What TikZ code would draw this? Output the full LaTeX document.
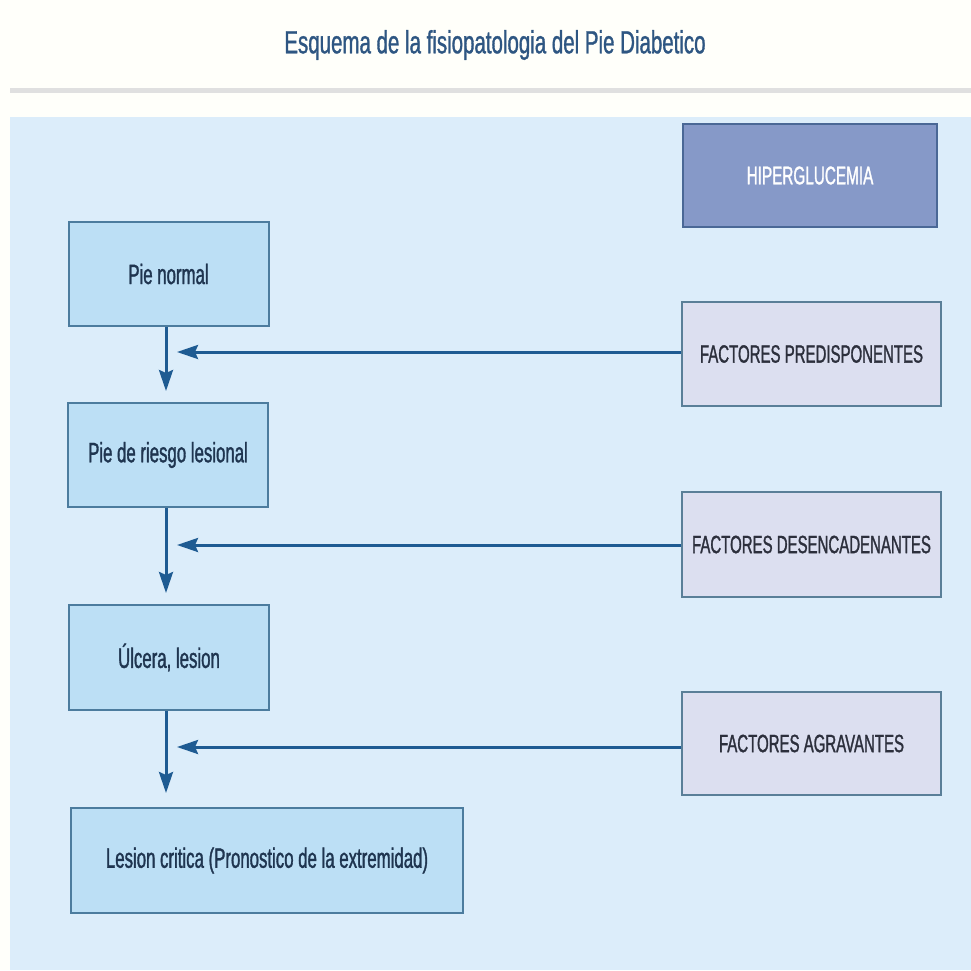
\documentclass[tikz,border=0pt]{standalone}
\usepackage{fontspec}
\setmainfont{Liberation Sans}[FakeStretch=0.6, FakeBold=1.2]
\newfontfamily\headfont{Liberation Sans}[FakeStretch=0.64, FakeBold=1.0]
\usetikzlibrary{arrows.meta}
\definecolor{panelbg}{HTML}{DCEDFA}
\definecolor{stagefill}{HTML}{BCDFF5}
\definecolor{stageedge}{HTML}{4C7C9E}
\definecolor{factfill}{HTML}{DCDFF0}
\definecolor{factedge}{HTML}{5A7F98}
\definecolor{hyperfill}{HTML}{8699C8}
\definecolor{hyperedge}{HTML}{4A6896}
\definecolor{flow}{HTML}{1E5B92}
\definecolor{titleblue}{HTML}{2E5682}
\definecolor{stagetext}{HTML}{1F3550}
\definecolor{facttext}{HTML}{2C2F3C}
\tikzset{
  stagebox/.style={draw=stageedge, line width=2pt, fill=stagefill, text=stagetext,
    minimum width=200pt, minimum height=104pt, inner sep=0pt,
    font=\fontsize{28}{30}\selectfont},
  factbox/.style={draw=factedge, line width=2pt, fill=factfill, text=facttext,
    minimum width=259pt, minimum height=104pt, inner sep=0pt,
    font=\fontsize{25}{27}\selectfont},
  hyperbox/.style={draw=hyperedge, line width=2pt, fill=hyperfill, text=white,
    minimum width=254pt, minimum height=103pt, inner sep=0pt,
    font=\fontsize{25.5}{27}\selectfont},
  flowarrow/.style={draw=flow, line width=3pt,
    -{Stealth[length=21pt,width=14pt,inset=3pt]}},
}
\begin{document}
\begin{tikzpicture}[x=1pt,y=-1pt]
  % page and panel
  \fill[white!98!yellow] (0,0) rectangle (971,970);
  \useasboundingbox (0,0) rectangle (971,970);
  \fill[panelbg] (10,117) rectangle (971,970);
  \draw[line width=5pt, color=black!12!white] (10,90) -- (971,90);

  % heading
  \node[text=titleblue, font=\headfont\fontsize{32}{34}\selectfont] (title) at (495,45)
    {Esquema de la fisiopatologia del Pie Diabetico};

  % stages of the foot
  \node[stagebox] (p1) at (168.5,274) {Pie normal};
  \node[stagebox] (p2) at (168,455) {Pie de riesgo lesional};
  \node[stagebox, minimum height=105pt] (p3) at (169,657.5) {Úlcera, lesion};
  \node[stagebox, minimum width=392pt, minimum height=105pt] (p4) at (267,860.5)
    {Lesion critica (Pronostico de la extremidad)};

  % contributing factors
  \node[hyperbox] (hyp) at (810,175.5) {HIPERGLUCEMIA};
  \node[factbox] (fp) at (811.5,354) {FACTORES PREDISPONENTES};
  \node[factbox, minimum height=105pt] (fd) at (811.5,544.5) {FACTORES DESENCADENANTES};
  \node[factbox, minimum height=103pt] (fa) at (811.5,743.5) {FACTORES AGRAVANTES};

  % arrow targets beside the main column
  \coordinate (j1) at (177,352);
  \coordinate (j2) at (177,545);
  \coordinate (j3) at (177,747);

  % progression arrows
  \draw[flowarrow, shorten >=11pt] (p1.south -| 166,0) -- (p2.north -| 166,0);
  \draw[flowarrow, shorten >=11pt] (p2.south -| 166,0) -- (p3.north -| 166,0);
  \draw[flowarrow, shorten >=14pt] (p3.south -| 166,0) -- (p4.north -| 166,0);

  % factor arrows
  \draw[flowarrow] (fp.west |- j1) -- (j1);
  \draw[flowarrow] (fd.west |- j2) -- (j2);
  \draw[flowarrow] (fa.west |- j3) -- (j3);
\end{tikzpicture}
\end{document}
